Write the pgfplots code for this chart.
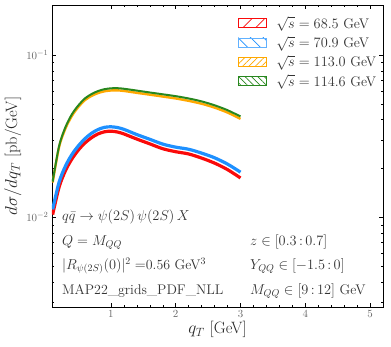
\documentclass[border=0pt]{standalone}
\usepackage{pgfplots}
\pgfplotsset{compat=1.18}
\usetikzlibrary{patterns.meta}

\definecolor{cred}{RGB}{250,10,10}
\definecolor{cblue}{RGB}{30,144,255}
\definecolor{corange}{RGB}{255,168,0}
\definecolor{cgreen}{RGB}{40,135,30}

\begin{document}
\begin{tikzpicture}
  \path[use as bounding box] (-52bp,-40bp) rectangle (339bp,307bp);
  \begin{axis}[
      scale only axis,
      width=331bp, height=302bp,
      ymode=log,
      xmin=0.09, xmax=5.2,
      ymin=0.0028, ymax=0.204,
      xtick={1,2,3,4,5},
      minor x tick num=4,
      tick align=inside,
      xtick pos=both, ytick pos=both,
      major tick length=4bp, minor tick length=2bp,
      tick style={black, line width=0.5bp},
      axis line style={black, line width=0.7bp},
      tick label style={font=\fontsize{11}{13}\selectfont, text=black!60},
      xlabel={$q_T$ [GeV]},
      ylabel={$d\sigma/dq_T$ [pb/GeV]},
      label style={font=\fontsize{16.5}{19}\selectfont, text=black!85},
      xlabel style={yshift=3bp},
      ylabel style={yshift=-2bp},
      legend style={at={(rel axis cs:0.995,0.975)}, anchor=north east,
        draw=none, fill=none, font=\fontsize{14}{16}\selectfont,
        text=black!80, row sep=2.5bp},
      legend cell align=left,
  ]
  % sqrt(s) = 68.5 GeV
  \addplot[cred, line width=3.2bp, smooth, forget plot] table {
    x y
    0.10 0.0104
    0.20 0.0154
    0.30 0.0195
    0.40 0.0230
    0.50 0.0261
    0.60 0.0288
    0.70 0.0310
    0.80 0.0327
    0.90 0.0337
    1.00 0.0340
    1.10 0.0336
    1.20 0.0327
    1.40 0.0304
    1.60 0.0284
    1.80 0.0265
    2.00 0.0254
    2.20 0.0246
    2.40 0.0232
    2.60 0.0216
    2.80 0.0197
    3.00 0.0175
  };
  % sqrt(s) = 70.9 GeV
  \addplot[cblue, line width=3.2bp, smooth, forget plot] table {
    x y
    0.10 0.0112
    0.20 0.0165
    0.30 0.0208
    0.40 0.0245
    0.50 0.0277
    0.60 0.0306
    0.70 0.0330
    0.80 0.0348
    0.90 0.0359
    1.00 0.0362
    1.10 0.0358
    1.20 0.0349
    1.40 0.0324
    1.60 0.0303
    1.80 0.0283
    2.00 0.0271
    2.20 0.0263
    2.40 0.0249
    2.60 0.0233
    2.80 0.0213
    3.00 0.0190
  };
  % sqrt(s) = 113.0 GeV
  \addplot[corange, line width=2.4bp, smooth, forget plot] table {
    x y
    0.10 0.0164
    0.20 0.0272
    0.30 0.0355
    0.40 0.0424
    0.50 0.0481
    0.60 0.0529
    0.70 0.0561
    0.80 0.0584
    0.90 0.0599
    1.00 0.0606
    1.10 0.0607
    1.20 0.0602
    1.40 0.0586
    1.60 0.0571
    1.80 0.0556
    2.00 0.0541
    2.20 0.0523
    2.40 0.0502
    2.60 0.0475
    2.80 0.0443
    3.00 0.0405
  };
  % sqrt(s) = 114.6 GeV
  \addplot[cgreen, line width=2.0bp, smooth, forget plot] table {
    x y
    0.10 0.0166
    0.20 0.0276
    0.30 0.0362
    0.40 0.0434
    0.50 0.0492
    0.60 0.0542
    0.70 0.0576
    0.80 0.0601
    0.90 0.0617
    1.00 0.0625
    1.10 0.0626
    1.20 0.0621
    1.40 0.0605
    1.60 0.0589
    1.80 0.0574
    2.00 0.0559
    2.20 0.0541
    2.40 0.0519
    2.60 0.0491
    2.80 0.0458
    3.00 0.0419
  };

  % hatched legend patches, with room before the text
  \addlegendimage{legend image code/.code={
    \draw[cred, line width=0.7bp, pattern={Lines[angle=45,distance=9bp,line width=0.7bp]}, pattern color=cred]
      (0bp,-4.6bp) rectangle (28bp,4.6bp);
    \path (36bp,0bp);}}
  \addlegendentry{$\sqrt{s}=68.5$ GeV}
  \addlegendimage{legend image code/.code={
    \draw[cblue!70, line width=0.7bp, pattern={Lines[angle=-45,distance=9bp,line width=0.7bp]}, pattern color=cblue]
      (0bp,-4.6bp) rectangle (28bp,4.6bp);
    \path (36bp,0bp);}}
  \addlegendentry{$\sqrt{s}=70.9$ GeV}
  \addlegendimage{legend image code/.code={
    \draw[corange, line width=0.7bp, pattern={Lines[angle=45,distance=4.5bp,line width=0.7bp]}, pattern color=corange]
      (0bp,-4.6bp) rectangle (28bp,4.6bp);
    \path (36bp,0bp);}}
  \addlegendentry{$\sqrt{s}=113.0$ GeV}
  \addlegendimage{legend image code/.code={
    \draw[cgreen, line width=0.7bp, pattern={Lines[angle=-45,distance=4.5bp,line width=0.7bp]}, pattern color=cgreen]
      (0bp,-4.6bp) rectangle (28bp,4.6bp);
    \path (36bp,0bp);}}
  \addlegendentry{$\sqrt{s}=114.6$ GeV}

  % process and kinematics
  \begin{scope}[every node/.style={anchor=west, inner sep=0pt, text=black!80,
      font=\fontsize{14}{16}\selectfont}]
    \node at (rel axis cs:0.030,0.298) {$q\bar{q}\to\psi(2S)\,\psi(2S)\,X$};
    \node at (rel axis cs:0.030,0.214) {$Q=M_{QQ}$};
    \node at (rel axis cs:0.030,0.136) {$|R_{\psi(2S)}(0)|^2=$0.56 GeV$^3$};
    \node at (rel axis cs:0.030,0.053) {MAP22\_grids\_PDF\_NLL};
    \node at (rel axis cs:0.598,0.214) {$z\in[0.3\,{:}\,0.7]$};
    \node at (rel axis cs:0.598,0.136) {$Y_{QQ}\in[-1.5\,{:}\,0]$};
    \node at (rel axis cs:0.598,0.053) {$M_{QQ}\in[9\,{:}\,12]$ GeV};
  \end{scope}
  \end{axis}
\end{tikzpicture}
\end{document}
